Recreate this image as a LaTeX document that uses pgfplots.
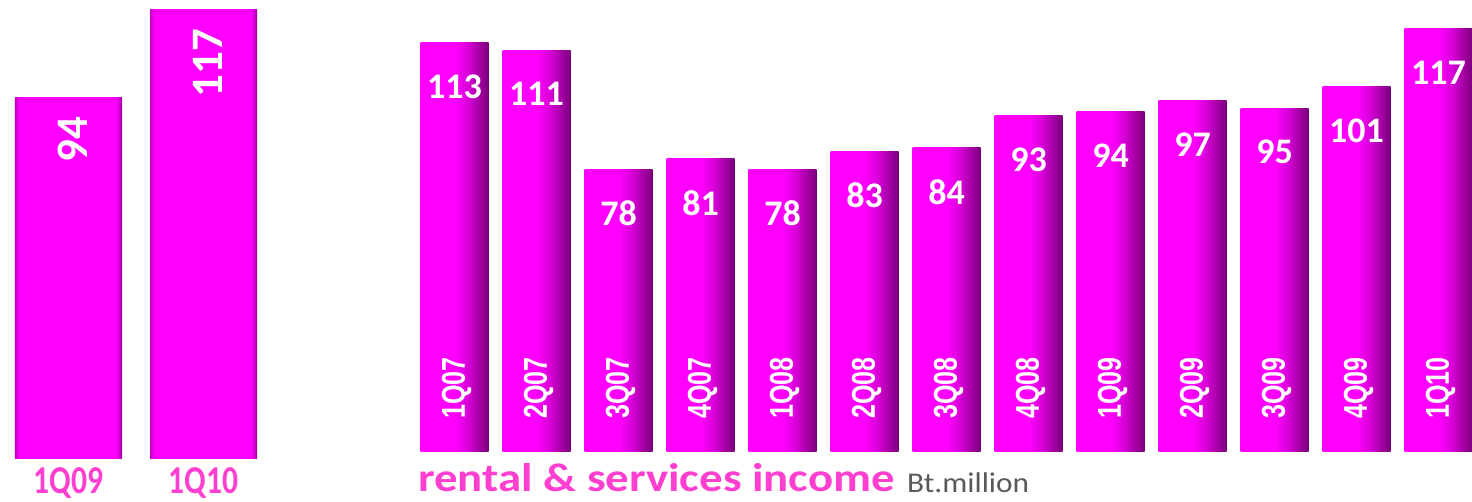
\documentclass[border=0pt]{standalone}
\usepackage{fontspec}
\usepackage{graphicx}
\usepackage{pgfplots}
\pgfplotsset{compat=1.18}
\setmainfont{Carlito}
\newfontfamily\arialfont{Liberation Sans}
\definecolor{titlepink}{HTML}{FF3FCF}
\definecolor{unitgray}{HTML}{595959}
% bars on the right: flat magenta, darkening towards the right edge
\pgfdeclarehorizontalshading{rightbar}{100bp}{rgb(0bp)=(1,0,1); rgb(25bp)=(1,0,1);
  rgb(50bp)=(1,0,1); rgb(60bp)=(0.84,0,0.84); rgb(75bp)=(0.48,0,0.48); rgb(100bp)=(0.48,0,0.48)}
% bars on the left: flat magenta, thin darker edges
\pgfdeclarehorizontalshading{leftbar}{100bp}{rgb(0bp)=(0.75,0,0.75); rgb(25bp)=(0.75,0,0.75);
  rgb(26.5bp)=(0.95,0,0.95); rgb(28bp)=(1,0,1); rgb(72bp)=(1,0,1); rgb(73.5bp)=(0.85,0,0.85);
  rgb(75bp)=(0.6,0,0.6); rgb(100bp)=(0.6,0,0.6)}
\newcommand{\sq}[1]{\scalebox{0.76}[1]{#1}}
\newcommand{\nq}[1]{\scalebox{0.8}[1]{#1}}

\pgfplotsset{
    lbar/.style={ybar, bar width=107pt, draw=none, shading=leftbar,
        nodes near coords, nodes near coords align={anchor=east},
        every node near coord/.append style={font=\bfseries\fontsize{45}{45}\selectfont,
            text=white, inner sep=0pt, xshift=4pt, yshift=-19pt, rotate=90}},
    rbar/.style={ybar, bar width=68pt, draw=none, shading=rightbar,
        nodes near coords, nodes near coords align={anchor=center},
        every node near coord/.append style={font=\bfseries\fontsize{36}{36}\selectfont,
            text=white, yshift=-44pt}},
}

\begin{document}
\begin{tikzpicture}
\useasboundingbox (0,0) rectangle (1472pt,502pt);

% 1Q09 vs 1Q10
\begin{axis}[
    at={(1pt,43.5pt)}, anchor=south west, scale only axis,
    width=270pt, height=458.5pt,
    xmin=-0.5, xmax=1.5, ymin=0, ymax=119.55,
    axis line style={draw=none}, major tick length=0pt,
    xtick={0,1}, ytick=\empty,
    xticklabels={\nq{1Q09},\nq{1Q10}},
    xticklabel style={font=\bfseries\fontsize{39.5}{39.5}\selectfont,
        text=titlepink, anchor=base, inner sep=0pt, yshift=-35.5pt},
    /pgf/number format/assume math mode=true,
    axis on top, clip=false,
]
\addplot[lbar] coordinates {(0,94)};
\addplot[lbar] coordinates {(1,117)};
\end{axis}

% quarterly series
\begin{axis}[
    at={(405.3pt,50pt)}, anchor=south west, scale only axis,
    width=1066pt, height=452pt,
    xmin=-0.6, xmax=12.4, ymin=0, ymax=124.86,
    axis line style={draw=none}, major tick length=0pt,
    xtick={0,...,12}, ytick=\empty,
    xticklabels={\sq{1Q07},\sq{2Q07},\sq{3Q07},\sq{4Q07},\sq{1Q08},\sq{2Q08},\sq{3Q08},
        \sq{4Q08},\sq{1Q09},\sq{2Q09},\sq{3Q09},\sq{4Q09},\sq{1Q10}},
    xticklabel style={font=\arialfont\bfseries\fontsize{33}{33}\selectfont,
        text=white, anchor=west, inner sep=0pt, xshift=2pt, yshift=33pt, rotate=90},
    /pgf/number format/assume math mode=true,
    axis on top, clip=false,
]
\addplot[rbar] coordinates {(0,113)};
\addplot[rbar] coordinates {(1,111)};
\addplot[rbar] coordinates {(2,78)};
\addplot[rbar] coordinates {(3,81)};
\addplot[rbar] coordinates {(4,78)};
\addplot[rbar] coordinates {(5,83)};
\addplot[rbar] coordinates {(6,84)};
\addplot[rbar] coordinates {(7,93)};
\addplot[rbar] coordinates {(8,94)};
\addplot[rbar] coordinates {(9,97)};
\addplot[rbar] coordinates {(10,95)};
\addplot[rbar] coordinates {(11,101)};
\addplot[rbar] coordinates {(12,117)};
\end{axis}

\node[anchor=base west, inner sep=0pt, text=titlepink,
    font=\bfseries\fontsize{40}{40}\selectfont] at (418pt,10.3pt)
    {\scalebox{1.17}[1]{rental \& services income}};
\node[anchor=base west, inner sep=0pt, text=unitgray,
    font=\fontsize{28.5}{28.5}\selectfont] at (907pt,9pt)
    {\scalebox{1.1}[1]{Bt.million}};
\end{tikzpicture}
\end{document}
